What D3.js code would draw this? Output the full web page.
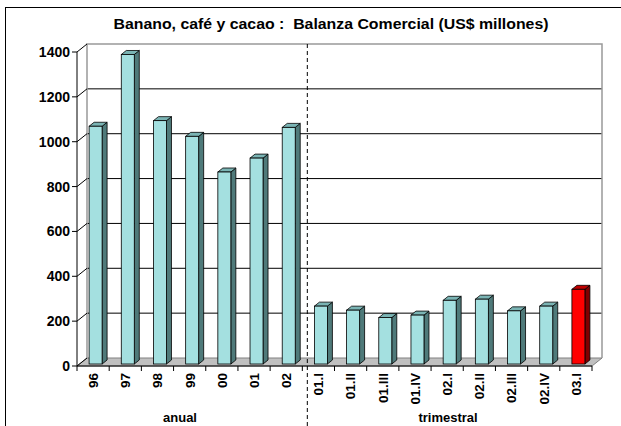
<!DOCTYPE html>
<html>
<head>
<meta charset="utf-8">
<script src="https://cdn.jsdelivr.net/npm/d3@7"></script>
<style>
  body { margin: 0; background: #fff; }
  text { font-family: Arial, "Liberation Sans", sans-serif; font-weight: bold; }
</style>
</head>
<body>
<div id="chart"></div>
<script>
var anualLabels = ["96", "97", "98", "99", "00", "01", "02"];
var anualValues = [1060, 1380, 1085, 1015, 856, 918, 1055];
var trimLabels = ["01.I", "01.II", "01.III", "01.IV", "02.I", "02.II", "02.III", "02.IV", "03.I"];
var trimValues = [258, 240, 207, 218, 284, 289, 237, 258, 333];
var yTicks = [0, 200, 400, 600, 800, 1000, 1200, 1400];

var svgWidth = 621;
var svgHeight = 426;

var svg = d3.select("#chart")
    .append("svg")
    .attr("width", svgWidth)
    .attr("height", svgHeight);

var data = anualLabels.map((d, i) => ({ label: d, value: anualValues[i], hot: false }))
    .concat(trimLabels.map((d, i) => ({ label: d, value: trimValues[i], hot: i === trimLabels.length - 1 })));

// 3d depth of the floor / back wall
var dx = 10, dy = -8;

var xScale = d3.scaleBand()
    .domain(data.map(d => d.label))
    .range([77, 592]);

var yScale = d3.scaleLinear()
    .domain([0, 1400])
    .range([366, 52]);

// outer frame
svg.append("rect")
    .attr("x", 5.5).attr("y", 7.5)
    .attr("width", 640).attr("height", 440)
    .attr("fill", "none")
    .attr("stroke", "#000");

svg.append("text")
    .attr("x", 331)
    .attr("y", 29)
    .attr("text-anchor", "middle")
    .attr("textLength", 435)
    .attr("lengthAdjust", "spacingAndGlyphs")
    .style("font-size", "14.5px")
    .style("white-space", "pre")
    .text("Banano, café y cacao :  Balanza Comercial (US$ millones)");

var x0 = xScale.range()[0], x1 = xScale.range()[1];
var yBase = yScale(0), yTop = yScale(1400);

// floor
svg.append("polygon")
    .attr("points", [[x0, yBase], [x0 + dx, yBase + dy], [x1 + dx, yBase + dy], [x1, yBase]].join(" "))
    .attr("fill", "#c0c0c0")
    .attr("stroke", "#808080");

// back wall gridlines
yTicks.slice(1, -1).forEach(t => {
    svg.append("line")
        .attr("x1", x0 + dx).attr("x2", x1 + dx)
        .attr("y1", yScale(t) + dy).attr("y2", yScale(t) + dy)
        .attr("stroke", "#000");
});

// back wall border
svg.append("path")
    .attr("d", `M${x0 + dx},${yBase + dy}V${yTop + dy}H${x1 + dx}V${yBase + dy}`)
    .attr("fill", "none")
    .attr("stroke", "#999")
    .attr("stroke-width", 1.5);

// side wall lines and y axis
yTicks.forEach(t => {
    var y = yScale(t);
    svg.append("line")
        .attr("x1", x0).attr("y1", y)
        .attr("x2", x0 + dx).attr("y2", y + dy)
        .attr("stroke", "#000");
    svg.append("line")
        .attr("x1", x0 - 5).attr("x2", x0)
        .attr("y1", y).attr("y2", y)
        .attr("stroke", "#000");
    svg.append("text")
        .attr("x", x0 - 7)
        .attr("y", y)
        .attr("dy", "0.36em")
        .attr("text-anchor", "end")
        .style("font-size", "14px")
        .text(t);
});

svg.append("line")
    .attr("x1", x0).attr("x2", x0)
    .attr("y1", yTop).attr("y2", yBase)
    .attr("stroke", "#000");

// bars
var barW = 13;
var fdx = dx * 0.25, fdy = dy * 0.25;
var sdx = dx * 0.5, sdy = dy * 0.5;

var barGroup = svg.append("g");

data.forEach(d => {
    var xl = xScale(d.label) + (xScale.bandwidth() - barW) / 2 + fdx;
    var xr = xl + barW;
    var yb = yBase + fdy;
    var yt = yScale(d.value) + fdy;
    var front = d.hot ? "#ff0000" : "#a4e0e0";
    var side = d.hot ? "#800000" : "#4f7a7a";
    var top = d.hot ? "#c00000" : "#7ab4b4";

    barGroup.append("polygon")
        .attr("points", [[xr, yt], [xr + sdx, yt + sdy], [xr + sdx, yb + sdy], [xr, yb]].join(" "))
        .attr("fill", side).attr("stroke", "#000").attr("stroke-width", 0.8);
    barGroup.append("polygon")
        .attr("points", [[xl, yt], [xl + sdx, yt + sdy], [xr + sdx, yt + sdy], [xr, yt]].join(" "))
        .attr("fill", top).attr("stroke", "#000").attr("stroke-width", 0.8);
    barGroup.append("rect")
        .attr("x", xl).attr("y", yt)
        .attr("width", barW).attr("height", yb - yt)
        .attr("fill", front).attr("stroke", "#000").attr("stroke-width", 0.8);
});

// x axis
svg.append("line")
    .attr("x1", x0).attr("x2", x1)
    .attr("y1", yBase).attr("y2", yBase)
    .attr("stroke", "#000");

var step = xScale.step();
d3.range(data.length + 1).forEach(i => {
    svg.append("line")
        .attr("x1", x0 + i * step).attr("x2", x0 + i * step)
        .attr("y1", yBase).attr("y2", yBase + 5)
        .attr("stroke", "#000");
});

svg.selectAll(".xlab")
    .data(data)
    .enter()
    .append("text")
        .attr("class", "xlab")
        .attr("transform", d => `translate(${xScale(d.label) + xScale.bandwidth() / 2},${yBase + 7})rotate(-90)`)
        .attr("dy", "0.36em")
        .attr("text-anchor", "end")
        .style("font-size", "13.5px")
        .text(d => d.label);

// separator between annual and quarterly
var sepX = xScale(trimLabels[0]) + 5;
svg.append("line")
    .attr("x1", sepX).attr("x2", sepX)
    .attr("y1", yTop + dy).attr("y2", svgHeight)
    .attr("stroke", "#000")
    .attr("stroke-dasharray", "4,3");

svg.append("text")
    .attr("x", 180).attr("y", 422)
    .attr("text-anchor", "middle")
    .style("font-size", "13px")
    .text("anual");

svg.append("text")
    .attr("x", 448).attr("y", 422)
    .attr("text-anchor", "middle")
    .style("font-size", "13px")
    .text("trimestral");
</script>
</body>
</html>
